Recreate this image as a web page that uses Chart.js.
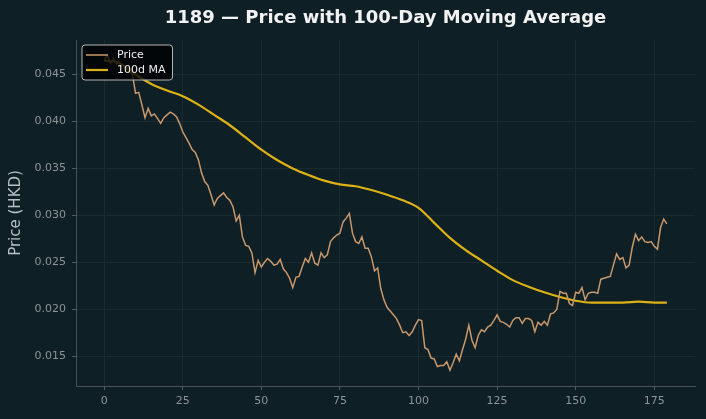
<!DOCTYPE html>
<html lang="en">
<head>
  <meta charset="UTF-8">
  <title>1189 Price with 100-Day Moving Average</title>
  <script src="https://cdn.jsdelivr.net/npm/chart.js"></script>
  <style>
    html, body { margin: 0; padding: 0; background: #0f1f26; }
    canvas { display: block; }
  </style>
</head>
<body>

<canvas id="priceChart" width="706" height="419"></canvas>

<script>
// daily closing price (HKD), day 0 .. 179
var price = [
  0.0465, 0.0471, 0.0462, 0.0467, 0.0461, 0.0463, 0.0459, 0.0456, 0.0453, 0.0450,
  0.0430, 0.0431, 0.0418, 0.0404, 0.0414, 0.0406, 0.0408, 0.0403, 0.0398, 0.0404,
  0.0407, 0.0410, 0.0408, 0.0405, 0.0398, 0.0389, 0.0383, 0.0377, 0.0370, 0.0367,
  0.0359, 0.0345, 0.0336, 0.0332, 0.0322, 0.0311, 0.0318, 0.0321, 0.0324, 0.0319,
  0.0316, 0.0309, 0.0294, 0.0300, 0.0277, 0.0268, 0.0267, 0.0260, 0.0239, 0.0252,
  0.0245, 0.0250, 0.0254, 0.0251, 0.0247, 0.0248, 0.0253, 0.0243, 0.0239, 0.0233,
  0.0223, 0.0234, 0.0235, 0.0245, 0.0254, 0.0250, 0.0260, 0.0249, 0.0247, 0.0260,
  0.0255, 0.0258, 0.0272, 0.0276, 0.0279, 0.0281, 0.0293, 0.0297, 0.0302, 0.0281,
  0.0272, 0.0270, 0.0277, 0.0265, 0.0265, 0.0256, 0.0241, 0.0244, 0.0222, 0.0210,
  0.0202, 0.0198, 0.0194, 0.0190, 0.0183, 0.0175, 0.0176, 0.0172, 0.0176, 0.0183,
  0.0189, 0.0188, 0.0159, 0.0157, 0.0148, 0.0147, 0.0139, 0.0140, 0.0140, 0.0144,
  0.0135, 0.0143, 0.0152, 0.0145, 0.0157, 0.0168, 0.0183, 0.0167, 0.0159, 0.0172,
  0.0178, 0.0176, 0.0181, 0.0183, 0.0188, 0.0194, 0.0187, 0.0186, 0.0184, 0.0181,
  0.0188, 0.0191, 0.0191, 0.0185, 0.0190, 0.0190, 0.0188, 0.0176, 0.0186, 0.0183,
  0.0187, 0.0183, 0.0195, 0.0196, 0.0200, 0.0219, 0.0217, 0.0217, 0.0206, 0.0204,
  0.0218, 0.0217, 0.0223, 0.0210, 0.0217, 0.0218, 0.0218, 0.0217, 0.0232, 0.0233,
  0.0234, 0.0235, 0.0247, 0.0259, 0.0253, 0.0255, 0.0244, 0.0247, 0.0266, 0.0280,
  0.0273, 0.0277, 0.0272, 0.0271, 0.0272, 0.0267, 0.0264, 0.0287, 0.0296, 0.0291
];

// 100-day moving average at these days
var maDays = [0, 5, 10, 15, 20, 25, 30, 35, 40, 45, 50, 55, 60, 65, 70, 75, 80, 85, 90, 95,
              100, 105, 110, 115, 120, 125, 130, 135, 140, 145, 150, 155, 160, 165, 170, 175, 179];
var maValues = [0.0465, 0.0462, 0.0450, 0.0440, 0.0433, 0.0427, 0.0418, 0.0407, 0.0396, 0.0383,
                0.0370, 0.0359, 0.0350, 0.0343, 0.0337, 0.0333, 0.0331, 0.0327, 0.0322, 0.0316,
                0.0308, 0.0292, 0.0276, 0.0263, 0.0252, 0.0241, 0.0231, 0.0224, 0.0218, 0.0213,
                0.0209, 0.0207, 0.0207, 0.0207, 0.0208, 0.0207, 0.0207];

var xTicks = [0, 25, 50, 75, 100, 125, 150, 175];
var yTicks = [0.015, 0.020, 0.025, 0.030, 0.035, 0.040, 0.045];

var chartTitle = '1189 \u2014 Price with 100-Day Moving Average';

var BG = '#0f1f26';
var FONT = "'DejaVu Sans', sans-serif";

// background + title over the plot area
var decorPlugin = {
  id: 'decor',
  beforeDraw: function (chart) {
    var c = chart.ctx;
    c.save();
    c.fillStyle = BG;
    c.fillRect(0, 0, chart.width, chart.height);
    c.restore();
  },
  afterDraw: function (chart) {
    var c = chart.ctx, a = chart.chartArea;
    c.save();
    c.fillStyle = '#f2f2f2';
    c.font = 'bold 18px ' + FONT;
    c.textAlign = 'center';
    c.textBaseline = 'middle';
    c.fillText(chartTitle, (a.left + a.right) / 2, 18);
    c.restore();
  }
};

// matplotlib-like legend box in the upper left
var legendPlugin = {
  id: 'boxLegend',
  afterDatasetsDraw: function (chart) {
    var c = chart.ctx, a = chart.chartArea;
    var sets = chart.data.datasets;
    c.save();
    c.font = '11px ' + FONT;
    var tw = 0;
    sets.forEach(function (d) { tw = Math.max(tw, c.measureText(d.label).width); });
    var x = a.left + 6, y = a.top + 5;
    var w = 35 + tw + 7, h = 35;
    c.beginPath();
    c.roundRect(x, y, w, h, 3);
    c.fillStyle = 'rgba(0,0,0,0.78)';
    c.fill();
    c.strokeStyle = '#b5b5b5';
    c.lineWidth = 1;
    c.stroke();
    sets.forEach(function (d, i) {
      var ly = y + 10 + i * 15;
      c.beginPath();
      c.moveTo(x + 4, ly);
      c.lineTo(x + 26, ly);
      c.strokeStyle = d.borderColor;
      c.lineWidth = d.borderWidth;
      c.stroke();
      c.fillStyle = '#eeeeee';
      c.textBaseline = 'middle';
      c.fillText(d.label, x + 35, ly);
    });
    c.restore();
  }
};

var ctx = document.getElementById('priceChart').getContext('2d');

new Chart(ctx, {
  type: 'line',
  data: {
    datasets: [
      {
        label: 'Price',
        data: price.map(function (v, i) { return { x: i, y: v }; }),
        borderColor: '#c8976a',
        borderWidth: 1.5,
        pointRadius: 0,
        tension: 0
      },
      {
        label: '100d MA',
        data: maDays.map(function (d, i) { return { x: d, y: maValues[i] }; }),
        borderColor: '#dcb215',
        borderWidth: 2.2,
        pointRadius: 0,
        cubicInterpolationMode: 'monotone'
      }
    ]
  },
  options: {
    responsive: false,
    animation: false,
    layout: { padding: { top: 40, right: 11, left: 0, bottom: 0 } },
    plugins: {
      legend: { display: false },
      title: { display: false },
      tooltip: { enabled: false }
    },
    scales: {
      x: {
        type: 'linear',
        min: -8.95,
        max: 187.95,
        afterBuildTicks: function (s) { s.ticks = xTicks.map(function (v) { return { value: v }; }); },
        afterFit: function (s) { s.height = 33; },
        grid: { color: '#1a2a31', tickColor: '#555c60', tickLength: 4 },
        border: { color: '#4a5256' },
        ticks: { color: '#8c9498', font: { family: FONT, size: 11 }, padding: 5, maxRotation: 0 }
      },
      y: {
        min: 0.01182,
        max: 0.04868,
        afterBuildTicks: function (s) { s.ticks = yTicks.map(function (v) { return { value: v }; }); },
        afterFit: function (s) { s.width = 76; },
        grid: { color: '#1a2a31', tickColor: '#555c60', tickLength: 4 },
        border: { color: '#4a5256' },
        ticks: {
          color: '#8c9498',
          font: { family: FONT, size: 11 },
          padding: 6,
          callback: function (v) { return v.toFixed(3); }
        },
        title: {
          display: true,
          text: 'Price (HKD)',
          color: '#b9c0c3',
          font: { family: FONT, size: 15 },
          padding: { top: 7, bottom: 0 }
        }
      }
    }
  },
  plugins: [decorPlugin, legendPlugin]
});
</script>

</body>
</html>
